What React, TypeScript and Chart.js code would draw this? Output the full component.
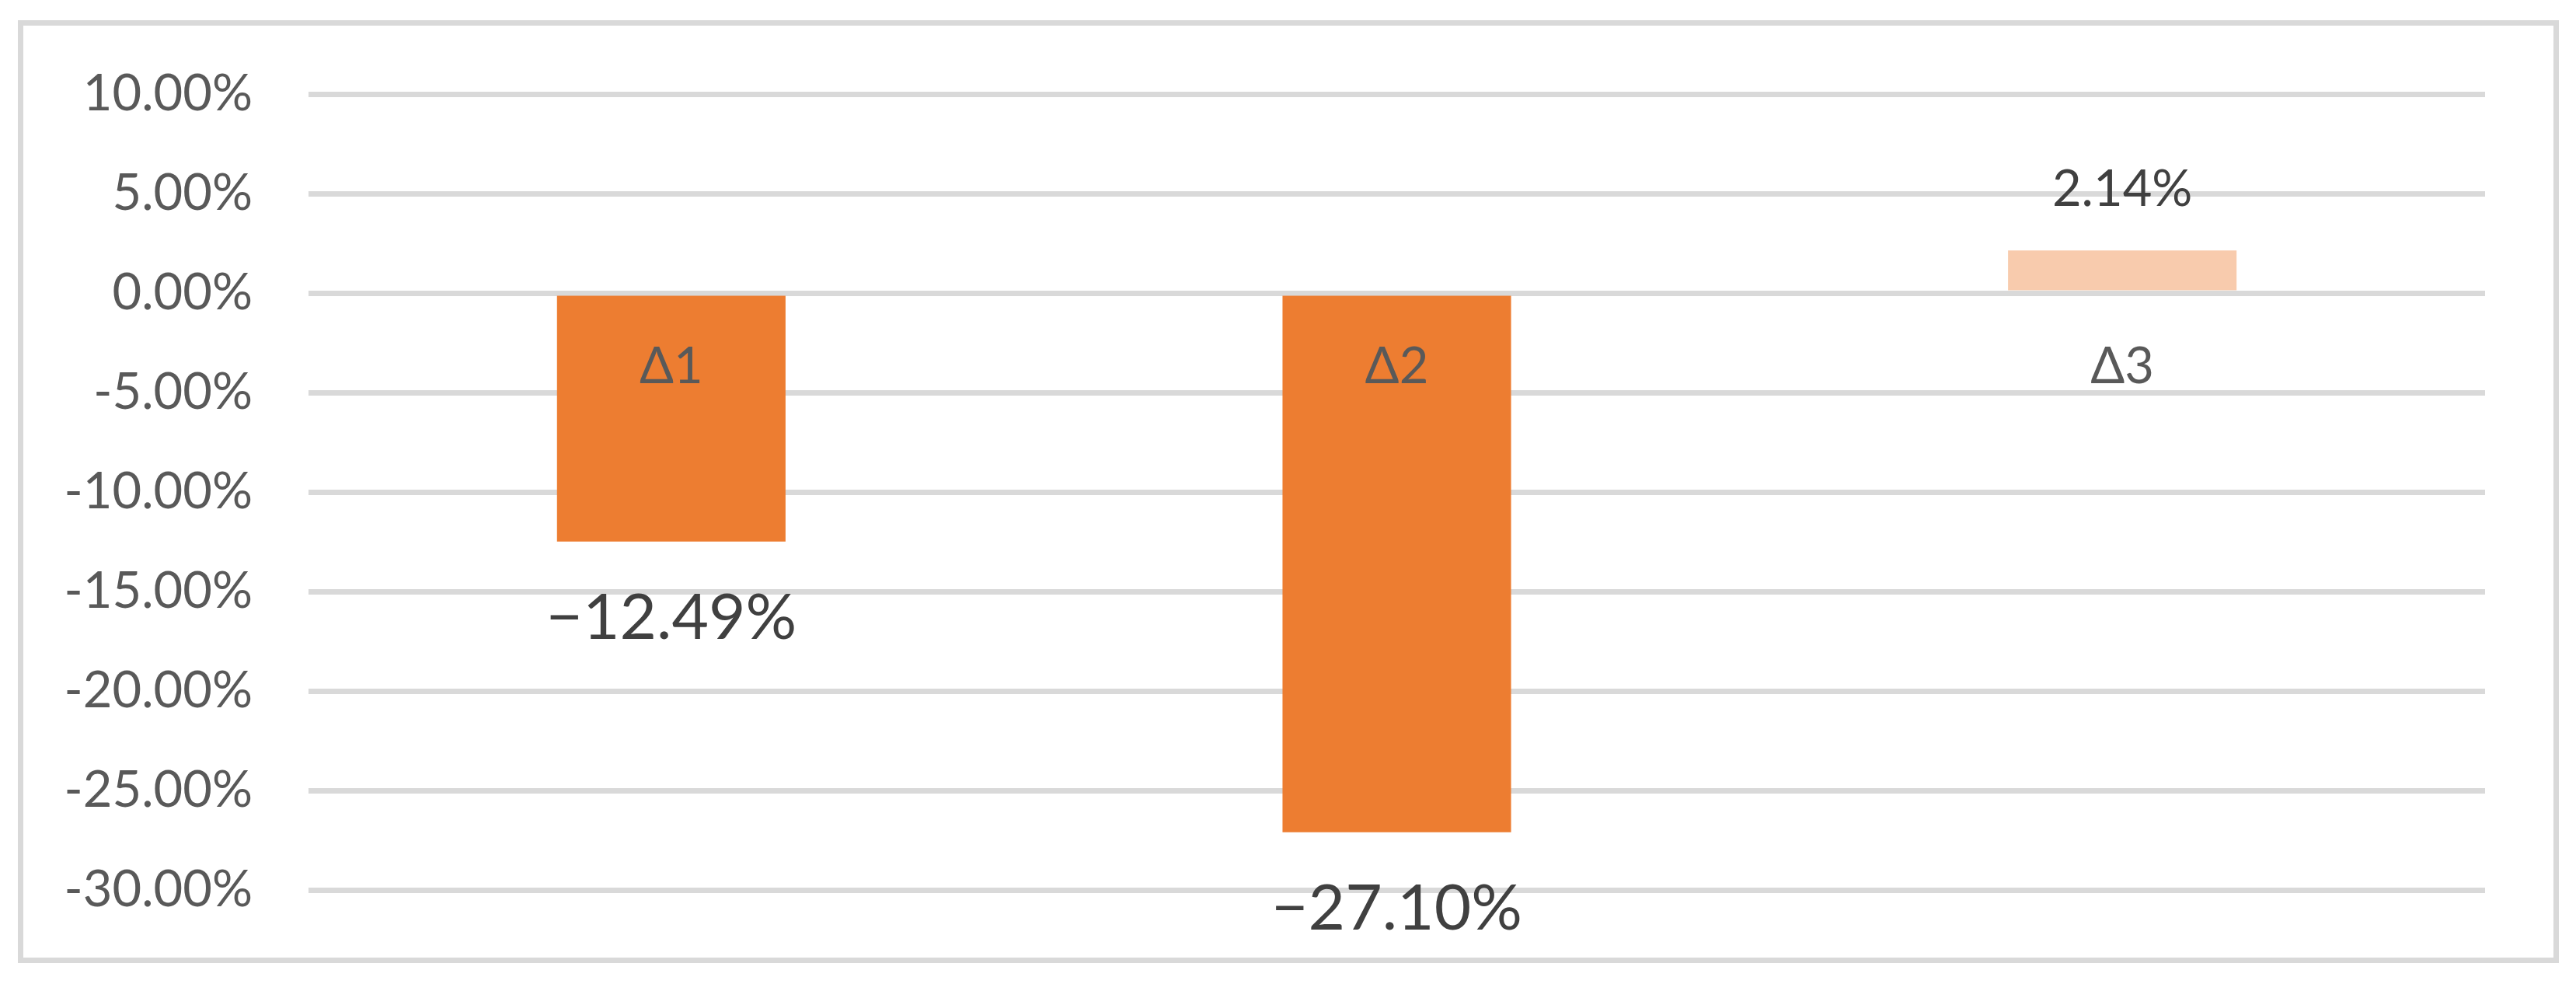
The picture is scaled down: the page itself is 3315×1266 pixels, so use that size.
import React, { useEffect, useRef } from "react";
import { Chart, registerables } from "chart.js";

Chart.register(...registerables);

const categories = ["Δ1", "Δ2", "Δ3"];
const values = [-12.49, -27.1, 2.14];
const valueLabels = ["−12.49%", "−27.10%", "2.14%"];
const barColors = ["#ED7D31", "#ED7D31", "#F8CBAD"];
const yMin = -30;
const yMax = 10;
const yStep = 5;

const FONT = "Lato, 'Open Sans', 'DejaVu Sans', sans-serif";

const valueLabelPlugin = {
  id: "valueLabels",
  afterDatasetsDraw(chart: any) {
    const ctx = chart.ctx;
    const meta = chart.getDatasetMeta(0);
    ctx.save();
    ctx.textAlign = "center";
    ctx.textBaseline = "alphabetic";
    meta.data.forEach((el: any, i: number) => {
      const { x, y } = el.getProps(["x", "y"], true);
      const v = values[i];
      if (v < 0) {
        ctx.font = `82px ${FONT}`;
        ctx.fillStyle = "#404040";
        ctx.fillText(valueLabels[i], x, y + 125);
      } else {
        ctx.font = `65px ${FONT}`;
        ctx.fillStyle = "#404040";
        ctx.fillText(valueLabels[i], x, y - 57);
      }
    });
    ctx.restore();
  },
};

export default function App() {
  const canvasRef = useRef<HTMLCanvasElement | null>(null);

  useEffect(() => {
    let chart: Chart | null = null;
    let cancelled = false;
    const make = () => {
      if (cancelled || !canvasRef.current) return;
      chart = new Chart(canvasRef.current, {
        type: "bar",
        data: {
          labels: categories,
          datasets: [
            {
              data: values,
              backgroundColor: barColors,
              borderWidth: 0,
              barPercentage: 0.315,
              categoryPercentage: 1,
            },
          ],
        },
        options: {
          responsive: false,
          animation: false,
          devicePixelRatio: 1,
          layout: { padding: { left: 0, top: 121, right: 117, bottom: 121 } },
          plugins: {
            legend: { display: false },
            tooltip: { enabled: false },
            title: { display: false },
          },
          scales: {
            x: {
              type: "category",
              position: { y: 0 } as any,
              grid: { display: false, drawTicks: false },
              border: { display: false },
              ticks: {
                z: 1,
                padding: 56,
                color: "#595959",
                font: { family: FONT, size: 65 },
                maxRotation: 0,
              } as any,
            },
            y: {
              min: yMin,
              max: yMax,
              afterFit: (scale: any) => {
                scale.width = 397;
              },
              grid: {
                color: "#D9D9D9",
                lineWidth: 7,
                drawTicks: false,
              },
              border: { display: false },
              ticks: {
                stepSize: yStep,
                padding: 72,
                color: "#595959",
                font: { family: FONT, size: 65 },
                callback: (v: any) => Number(v).toFixed(2) + "%",
              },
            },
          },
        },
        plugins: [valueLabelPlugin],
      });
    };
    const fontsReady = (document as any).fonts
      ? Promise.all([
          (document as any).fonts.load(`65px Lato`),
          (document as any).fonts.load(`82px Lato`),
        ]).catch(() => null)
      : Promise.resolve(null);
    fontsReady.then(make);
    return () => {
      cancelled = true;
      if (chart) chart.destroy();
    };
  }, []);

  return (
    <div
      style={{
        position: "absolute",
        left: 0,
        top: 0,
        width: 3315,
        height: 1266,
        background: "#ffffff",
        overflow: "hidden",
      }}
    >
      <canvas
        ref={canvasRef}
        width={3315}
        height={1266}
        style={{ position: "absolute", left: 0, top: 0, width: 3315, height: 1266 }}
      />
      <div
        style={{
          position: "absolute",
          left: 23,
          top: 26,
          width: 3270,
          height: 1213,
          boxSizing: "border-box",
          border: "7px solid #D9D9D9",
          pointerEvents: "none",
        }}
      />
    </div>
  );
}
